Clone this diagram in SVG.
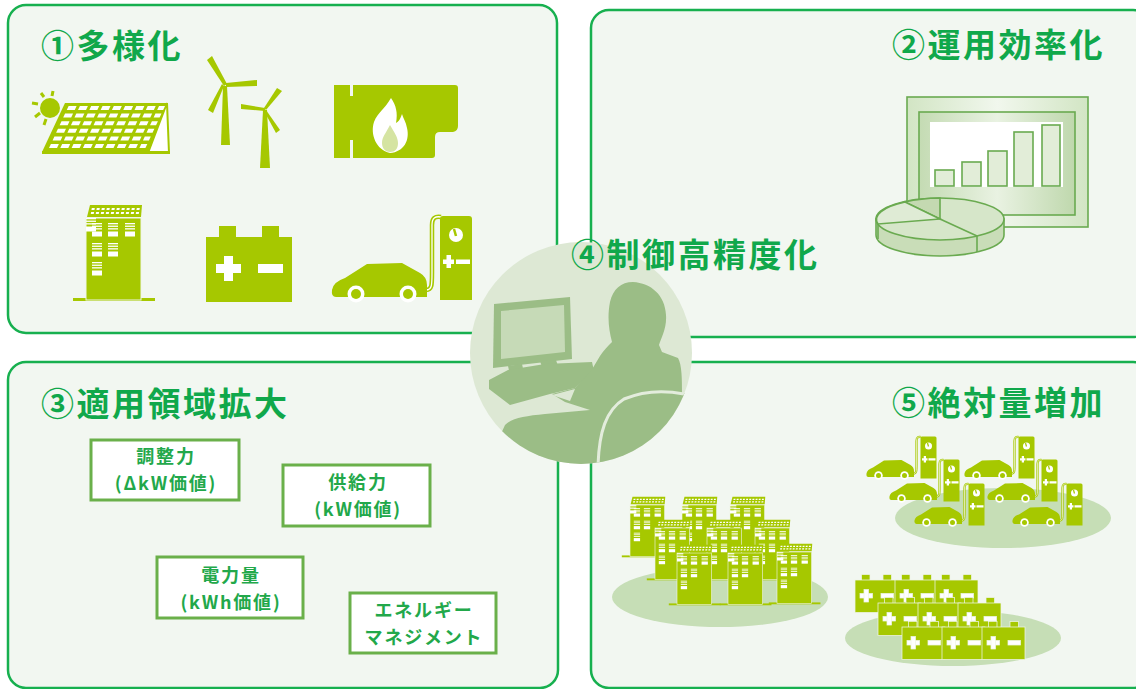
<svg xmlns="http://www.w3.org/2000/svg" xmlns:xlink="http://www.w3.org/1999/xlink" width="1136" height="689" viewBox="0 0 1136 689">
  <style>
    .panel { fill: #f2f7f1; stroke: #17b04f; stroke-width: 2.5; }
    .title { font-family: "Noto Sans CJK JP", "Noto Sans", sans-serif; font-weight: bold; font-size: 33px; letter-spacing: 2.5px; fill: #10a84b; }
    .box { fill: #ffffff; stroke: #6ab04a; stroke-width: 3; }
    .boxtxt { font-family: "Noto Sans CJK JP", "Noto Sans", sans-serif; font-weight: bold; font-size: 18px; letter-spacing: 1.8px; fill: #22a84a; text-anchor: middle; }
    .lime { fill: #a6c800; }
    .wht { fill: #ffffff; }
    .cl { stroke: #6aaa50; stroke-width: 1.6; }
    .sil { fill: #9bbd86; }
    .pad { fill: #c6deb6; }
  </style>
  <defs>
    <linearGradient id="frameGrad" x1="0" y1="0" x2="1" y2="0">
      <stop offset="0" stop-color="#d2e5c4"/>
      <stop offset="0.5" stop-color="#f1f7ed"/>
      <stop offset="1" stop-color="#d2e5c4"/>
    </linearGradient>
    <linearGradient id="innerGrad" x1="0" y1="0" x2="1" y2="0">
      <stop offset="0" stop-color="#c4dbb3"/>
      <stop offset="0.5" stop-color="#e9f2e2"/>
      <stop offset="1" stop-color="#bfd8ad"/>
    </linearGradient>
    <clipPath id="circClip"><circle cx="581" cy="353" r="111"/></clipPath>

    <!-- office building with rooftop solar, origin = body top-left -->
    <g id="bld">
      <rect x="-13" y="80" width="82" height="3" class="lime"/>
      <rect x="0" y="0" width="55" height="82" class="lime" stroke="#eef5e6" stroke-width="1"/>
      <polygon points="4,-13 56,-13 55,-1 1,-1" class="lime"/>
      <g class="wht" transform="translate(0,-11) skewX(-10)">
        <rect x="6" y="1" width="3" height="2"/><rect x="11" y="1" width="3" height="2"/><rect x="16" y="1" width="3" height="2"/><rect x="21" y="1" width="3" height="2"/><rect x="26" y="1" width="3" height="2"/><rect x="31" y="1" width="3" height="2"/><rect x="36" y="1" width="3" height="2"/><rect x="41" y="1" width="3" height="2"/><rect x="46" y="1" width="3" height="2"/><rect x="51" y="1" width="3" height="2"/>
        <rect x="6" y="5" width="3" height="2"/><rect x="11" y="5" width="3" height="2"/><rect x="16" y="5" width="3" height="2"/><rect x="21" y="5" width="3" height="2"/><rect x="26" y="5" width="3" height="2"/><rect x="31" y="5" width="3" height="2"/><rect x="36" y="5" width="3" height="2"/><rect x="41" y="5" width="3" height="2"/><rect x="46" y="5" width="3" height="2"/><rect x="51" y="5" width="3" height="2"/>
      </g>
      <g class="wht">
        <g id="win"><rect x="0" y="0" width="10" height="1.3"/><rect x="0" y="2.6" width="10" height="1.3"/><rect x="0" y="5.2" width="10" height="1.3"/><rect x="0" y="8.5" width="10" height="5"/></g>
        <use xlink:href="#win" x="6" y="5"/><use xlink:href="#win" x="22" y="5"/><use xlink:href="#win" x="39" y="5"/>
        <use xlink:href="#win" x="6" y="25"/><use xlink:href="#win" x="22" y="25"/>
        <use xlink:href="#win" x="6" y="44"/>
      </g>
    </g>

    <!-- storage battery, origin = body top-left -->
    <g id="bat">
      <rect x="13" y="-11" width="17" height="12" class="lime"/>
      <rect x="56" y="-11" width="17" height="12" class="lime"/>
      <rect x="0" y="0" width="86" height="65" class="lime"/>
      <g class="wht">
        <rect x="10" y="27" width="25" height="9"/>
        <rect x="18" y="19" width="9" height="25"/>
        <rect x="52" y="27" width="25" height="9"/>
      </g>
    </g>

    <!-- electric car plugged into a charger, origin = car roof-left -->
    <g id="ev">
      <path d="M93,27 C99,27 99,22 99,10 L99,-38 C99,-45 102,-47 108,-46" fill="none" stroke="#a6c800" stroke-width="4.5"/>
      <path d="M93,27 C99,27 99,22 99,10 L99,-38 C99,-45 102,-47 108,-46" fill="none" stroke="#ffffff" stroke-width="1.3"/>
      <path d="M3,34 Q-2,34 -1,27 Q0,19 12,15 L34,1 L69,0 L87,10 Q94,14 94,22 L94,34 Z" class="lime"/>
      <circle cx="23" cy="31" r="8.5" class="wht"/><circle cx="23" cy="31" r="5" class="lime"/>
      <circle cx="75" cy="31" r="8.5" class="wht"/><circle cx="75" cy="31" r="5" class="lime"/>
      <path d="M107,37 L107,-44 Q107,-47 110,-47 L136,-47 Q139,-47 139,-44 L139,37 Z" class="lime"/>
      <circle cx="123" cy="-28" r="7" class="wht"/>
      <line x1="123" y1="-27" x2="121" y2="-34" stroke="#a6c800" stroke-width="2.5"/>
      <g class="wht">
        <rect x="110" y="-3.5" width="11" height="4.5"/>
        <rect x="113.5" y="-8" width="4.5" height="13"/>
        <rect x="123" y="-3.5" width="14" height="4.5"/>
      </g>
    </g>
  </defs>

  <!-- panels -->
  <g id="panel-diversification">
    <rect x="8" y="5" width="549" height="328" rx="18" class="panel"/>
  </g>
  <g id="panel-efficiency">
    <rect x="591" y="10" width="560" height="327" rx="18" class="panel"/>
  </g>
  <g id="panel-scope">
    <rect x="8" y="362" width="550" height="326" rx="18" class="panel"/>
  </g>
  <g id="panel-volume">
    <rect x="591" y="362" width="560" height="326" rx="18" class="panel"/>
  </g>

  <!-- titles -->
  <text x="41" y="58" class="title">①多様化</text>
  <text x="892" y="57" class="title">②運用効率化</text>
  <text x="41" y="416" class="title">③適用領域拡大</text>
  <text x="892" y="415" class="title">⑤絶対量増加</text>

  <!-- ① resource icons -->
  <g id="icon-solar">
    <circle cx="50" cy="108" r="10" class="lime"/>
    <g stroke="#a6c800" stroke-width="3">
      <line x1="38" y1="104" x2="32" y2="103"/>
      <line x1="40" y1="113" x2="35" y2="117"/>
      <line x1="46" y1="119" x2="44" y2="125"/>
      <line x1="44" y1="97" x2="41" y2="93"/>
      <line x1="52" y1="96" x2="53" y2="91"/>
    </g>
    <polygon points="65,103 167,103 148,152 42,152" class="lime"/>
    <polygon points="167,103 169,153 148,153" fill="#ffffff" stroke="#a6c800" stroke-width="2"/>
    <rect x="42" y="151" width="128" height="3" class="lime"/>
    <g class="wht" transform="translate(65,103) skewX(-25)">
      <g id="cellrow">
        <rect x="5" y="3" width="8" height="4"/><rect x="16.3" y="3" width="8" height="4"/><rect x="27.6" y="3" width="8" height="4"/><rect x="38.9" y="3" width="8" height="4"/><rect x="50.2" y="3" width="8" height="4"/><rect x="61.5" y="3" width="8" height="4"/><rect x="72.8" y="3" width="8" height="4"/><rect x="84.1" y="3" width="8" height="4"/><rect x="95.4" y="3" width="6" height="4"/>
      </g>
      <use xlink:href="#cellrow" y="7.6"/><use xlink:href="#cellrow" y="15.2"/><use xlink:href="#cellrow" y="22.8"/><use xlink:href="#cellrow" y="30.4"/><use xlink:href="#cellrow" y="38"/>
    </g>
  </g>

  <g id="icon-wind" class="lime">
    <polygon points="224,86 207,60 212,56 227,84"/>
    <polygon points="226,83 257,80 257,86 226,87"/>
    <polygon points="224,86 213,113 208,110 222,84"/>
    <polygon points="223,86 227,86 230,145 221,145"/>
    <polygon points="264,108 277,88 282,91 266,110"/>
    <polygon points="265,108 241,104 241,109 265,111"/>
    <polygon points="266,110 280,130 276,133 264,111"/>
    <polygon points="263,110 267,110 270,168 260,168"/>
  </g>

  <g id="icon-thermal">
    <path d="M334,85 H350 V96 H353 V85 H455 Q458,85 458,88 V126 Q458,131 453,132 L440,132 Q435,132 435,137 V155 Q435,158 432,158 H353 V140 H350 V158 H334 Z" class="lime"/>
    <path d="M391,98 C384,110 378,112 374,122 C370,134 376,150 390,153 C404,152 410,140 407,128 C406,122 403,118 402,114 C400,120 398,122 396,123 C398,113 396,105 391,98 Z" class="wht"/>
    <path d="M390,125 C386,133 382,137 382,143 C382,149 386,152 390,152 C395,152 398,149 398,143 C398,137 394,132 390,125 Z" fill="#d5e4a2"/>
  </g>

  <g id="icon-building">
    <use xlink:href="#bld" transform="translate(86,218)"/>
  </g>

  <g id="icon-battery">
    <use xlink:href="#bat" transform="translate(206,237)"/>
  </g>

  <g id="icon-ev">
    <use xlink:href="#ev" transform="translate(333,263)"/>
  </g>

  <!-- ② monitoring display -->
  <g id="icon-chart">
    <rect x="907" y="97" width="181" height="130" fill="url(#frameGrad)" class="cl" stroke-width="2"/>
    <rect x="919" y="112" width="156" height="103" fill="url(#innerGrad)" class="cl"/>
    <rect x="930" y="122" width="133" height="65" fill="#ffffff"/>
    <g fill="#e2edd8" class="cl">
      <rect x="935" y="170" width="19" height="16"/>
      <rect x="962" y="162" width="19" height="24"/>
      <rect x="988" y="151" width="19" height="35"/>
      <rect x="1014" y="132" width="19" height="54"/>
      <rect x="1042" y="125" width="18" height="61"/>
    </g>
    <path d="M876,219 L876,235 A64,21 0 0 0 1004,235 L1004,219 Z" fill="#c9ddb8" class="cl"/>
    <ellipse cx="940" cy="219" rx="64" ry="21" fill="#d6e6c9" class="cl"/>
    <path d="M940,219 L940,198 A64,21 0 0 0 905,202 Z" fill="#c4d9b1" class="cl"/>
    <path d="M940,219 L905,202 A64,21 0 0 0 878,224 Z" fill="#dfebd5" class="cl"/>
    <line x1="940" y1="219" x2="977" y2="236" class="cl"/>
    <line x1="977" y1="236" x2="977" y2="252" class="cl"/>
    <line x1="878" y1="224" x2="878" y2="239" class="cl"/>
  </g>

  <!-- ④ operator at a workstation -->
  <g id="operator">
    <circle cx="581" cy="353" r="111" fill="#dde8d4"/>
    <g clip-path="url(#circClip)">
      <polygon points="494,304 570,297 572,359 493,368" class="sil"/>
      <polygon points="501,311 564,305 565,352 501,359" fill="#c6dab7"/>
      <polygon points="508,366 522,364 524,373 510,375" class="sil"/>
      <polygon points="540,361 556,360 558,366 542,367" class="sil"/>
      <polygon points="489,380 508,370 545,364 592,362 594,371 575,388 550,394 510,405 489,389" class="sil"/>
      <path d="M633,282 C651,283 665,295 666,315 C667,328 661,338 659,345 L662,352 L678,358 C682,365 682,380 682,393 L700,393 L700,480 L480,480 L505,425 C512,418 525,416 545,414 L590,410 L565,402 L552,394 L575,388 L591,371 L600,356 C604,350 608,346 612,342 C609,330 607,318 610,302 C613,289 621,282 633,282 Z" class="sil"/>
      <polygon points="552,395 575,389 570,401" fill="#dde8d4"/>
      <path d="M598,466 C599,432 606,410 624,399 C643,391 664,390 684,394" fill="none" stroke="#e3ecdc" stroke-width="3"/>
    </g>
  </g>
  <text x="571" y="267" class="title">④制御高精度化</text>

  <!-- ③ value categories -->
  <g id="box-adjust">
    <rect x="91" y="440" width="148" height="60" class="box"/>
    <text x="166" y="463" class="boxtxt">調整力</text>
    <text x="166" y="490" class="boxtxt">(ΔkW価値)</text>
  </g>
  <g id="box-supply">
    <rect x="283" y="465" width="147" height="61" class="box"/>
    <text x="358" y="489" class="boxtxt">供給力</text>
    <text x="358" y="516" class="boxtxt">(kW価値)</text>
  </g>
  <g id="box-energy">
    <rect x="157" y="557" width="146" height="61" class="box"/>
    <text x="231" y="582" class="boxtxt">電力量</text>
    <text x="231" y="609" class="boxtxt">(kWh価値)</text>
  </g>
  <g id="box-ems">
    <rect x="350" y="593" width="146" height="60" class="box"/>
    <text x="424" y="617" class="boxtxt">エネルギー</text>
    <text x="424" y="644" class="boxtxt">マネジメント</text>
  </g>

  <!-- ⑤ aggregated resources -->
  <g id="cluster-buildings">
    <ellipse cx="720" cy="597" rx="108" ry="30" class="pad"/>
    <use xlink:href="#bld" transform="translate(630,505) scale(0.63)"/>
    <use xlink:href="#bld" transform="translate(682,505) scale(0.63)"/>
    <use xlink:href="#bld" transform="translate(730,505) scale(0.63)"/>
    <use xlink:href="#bld" transform="translate(655,528) scale(0.63)"/>
    <use xlink:href="#bld" transform="translate(707,528) scale(0.63)"/>
    <use xlink:href="#bld" transform="translate(755,528) scale(0.63)"/>
    <use xlink:href="#bld" transform="translate(677,553) scale(0.63)"/>
    <use xlink:href="#bld" transform="translate(728,553) scale(0.63)"/>
    <use xlink:href="#bld" transform="translate(777,552) scale(0.63)"/>
  </g>

  <g id="cluster-ev">
    <ellipse cx="1003" cy="518" rx="108" ry="30" class="pad"/>
    <use xlink:href="#ev" transform="translate(867,460) scale(0.5)"/>
    <use xlink:href="#ev" transform="translate(965,460) scale(0.5)"/>
    <use xlink:href="#ev" transform="translate(890,483) scale(0.5)"/>
    <use xlink:href="#ev" transform="translate(988,483) scale(0.5)"/>
    <use xlink:href="#ev" transform="translate(915,507) scale(0.5)"/>
    <use xlink:href="#ev" transform="translate(1013,507) scale(0.5)"/>
  </g>

  <g id="cluster-batteries">
    <ellipse cx="953" cy="638" rx="108" ry="28" class="pad"/>
    <g stroke="#eef5e6" stroke-width="1.5">
      <use xlink:href="#bat" transform="translate(855,580) scale(0.5)"/>
      <use xlink:href="#bat" transform="translate(895,580) scale(0.5)"/>
      <use xlink:href="#bat" transform="translate(935,580) scale(0.5)"/>
      <use xlink:href="#bat" transform="translate(878,603) scale(0.5)"/>
      <use xlink:href="#bat" transform="translate(918,603) scale(0.5)"/>
      <use xlink:href="#bat" transform="translate(958,603) scale(0.5)"/>
      <use xlink:href="#bat" transform="translate(902,627) scale(0.5)"/>
      <use xlink:href="#bat" transform="translate(942,627) scale(0.5)"/>
      <use xlink:href="#bat" transform="translate(982,627) scale(0.5)"/>
    </g>
  </g>
</svg>
